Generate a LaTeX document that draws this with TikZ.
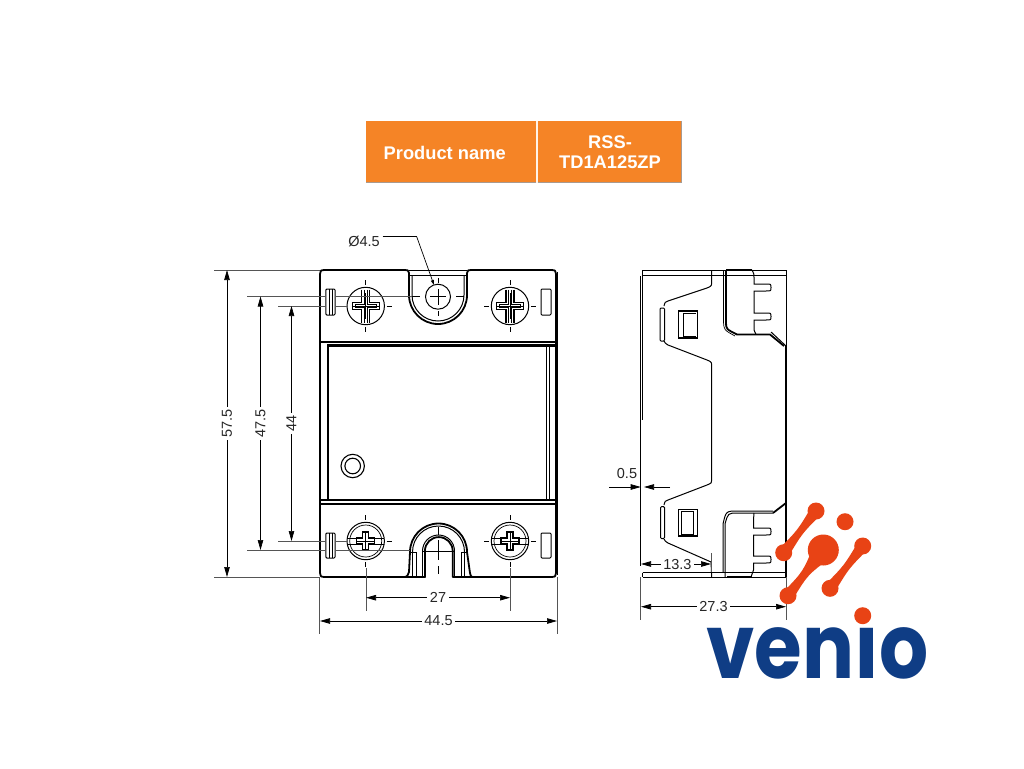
\documentclass[tikz,border=0pt]{standalone}
\usepackage{fontspec}
\setmainfont{Liberation Sans}
\newfontfamily\logofont{Poppins}
\usetikzlibrary{arrows.meta,calc}
\definecolor{tblorange}{HTML}{F58426}
\definecolor{tblgray}{HTML}{A89A90}
\definecolor{logored}{HTML}{E84315}
\definecolor{logoblue}{HTML}{0F3D85}
\definecolor{extgray}{HTML}{555555}
\tikzset{
  x=1pt,y=-1pt,
  thin line/.style={line width=0.7pt,black},
  mid line/.style={line width=1.0pt,black},
  thick line/.style={line width=1.8pt,black,line join=round},
  ext line/.style={line width=0.8pt,extgray},
  center line/.style={line width=0.7pt,black},
  dim line/.style={line width=0.7pt,black,{Triangle[length=10pt,width=5.5pt]}-{Triangle[length=10pt,width=5.5pt]}},
  dim tip/.style={line width=0.7pt,black,-{Triangle[length=10pt,width=5.5pt]}},
  dim label/.style={fill=white,inner xsep=2.5pt,inner ysep=1pt,font=\fontsize{14.5pt}{15pt}\selectfont,text=black!85},
  table text/.style={font=\fontsize{18.3pt}{20pt}\selectfont\bfseries,text=white,align=center,inner sep=0pt},
  logo dot/.style={circle,fill=logored,inner sep=0pt,minimum size=#1},
  pics/topscrew/.style={code={
    \draw[mid line] (0,0) circle (18.7);
    \draw[center line] (-26,0)--(-21,0) (-13,0)--(13,0) (21,0)--(26,0) (0,-26)--(0,-21) (0,-13)--(0,13) (0,21)--(0,26);
    \draw[line width=1.2pt] (-4,-16.5)--(-4,-3.7)--(-13.5,-3.7)--(-13.5,3.7)--(-4,3.7)--(-4,16.5) (4,-16.5)--(4,-3.7)--(13.5,-3.7)--(13.5,3.7)--(4,3.7)--(4,16.5);
    \draw[thin line] (-1.5,-16.5)--(-1.5,-1.5)--(-10.5,-1.5)--(-10.5,1.5)--(-1.5,1.5)--(-1.5,16.5) (1.5,-16.5)--(1.5,-1.5)--(10.5,-1.5)--(10.5,1.5)--(1.5,1.5)--(1.5,16.5);
  }},
  pics/botscrew/.style={code={
    \draw[mid line] (0,0) circle (18.7);
    \draw[thin line] (0,0) circle (16);
    \draw[center line] (-26,0)--(-21,0) (21,0)--(26,0) (0,-26)--(0,-21) (0,21)--(0,26);
    \draw[thin line] (-18.5,-3)--(-9,-3) (9,-3)--(18.5,-3) (-18.5,3)--(-9,3) (9,3)--(18.5,3);
    \draw[line width=1.2pt] (-9,-3)--(-3,-3)--(-3,-9)--(3,-9)--(3,-3)--(9,-3)--(9,3)--(3,3)--(3,9)--(-3,9)--(-3,3)--(-9,3)--cycle;
    \draw[center line] (-9,0)--(9,0) (0,-9)--(0,9);
  }}
}
\newcommand{\lnk}[4]{\fill[logored] ($(#1)!#3!90:(#2)$) .. controls ($(#1)!.5!(#2)!2.8pt!90:(#2)$) .. ($(#2)!#4!-90:(#1)$) -- ($(#2)!#4!90:(#1)$) .. controls ($(#1)!.5!(#2)!2.8pt!-90:(#2)$) .. ($(#1)!#3!-90:(#2)$) -- cycle;}
\begin{document}
\begin{tikzpicture}
\useasboundingbox (0,0) rectangle (1024,768);
\fill[white] (0,0) rectangle (1024,768);
% table
\fill[tblorange] (366,121) rectangle (681,183);
\draw[tblgray,line width=1pt] (366,182.5)--(681,182.5)--(681,121);
\draw[white!90!tblorange,line width=1.3pt] (537,121)--(537,183);
\node[table text] (prod) at (444.7,152.7) {Product name};
\node[table text] (model) at (610,152) {RSS-\\TD1A125ZP};
% ---------- front view
\draw[thick line] (324,270)--(405,270)..controls (408,270) ..(409,273)--(409,295)
  arc[start angle=180,end angle=0,radius=29]--(467,273)..controls (468,270)..(471,270)--(552,270)
  ..controls (555,270)..(556,274)--(556,573)..controls (555,577)..(552,577)--(475,577)..controls (471,577)..(470,573)
  --(467,552) ;
\draw[thick line] (324,270)..controls (321,270)..(320,274)--(320,573)..controls (321,577)..(324,577)--(402,577)
  ..controls (407,577)..(409,572)--(410,552);
\draw[thick line] (410,552) arc[start angle=180,end angle=360,radius=28.5];
\draw[thick line] (475,577)--(452.7,577)--(452.7,551) arc[start angle=0,end angle=-180,radius=13.9]--(425,577)--(402,577);
\draw[thin line] (557.8,272)--(557.8,575);
\draw[mid line] (412.5,552) arc[start angle=180,end angle=360,radius=26];
\draw[mid line] (422.5,551) arc[start angle=180,end angle=360,radius=16];
\draw[thin line] (412.5,552)--(412.5,577) (416,552)--(416,577) (422.5,551)--(422.5,577)
  (464.5,552)--(464.5,577) (461,552)--(461,577) (454.5,551)--(454.5,577)
  (410,552)--(416,552) (422.5,551)--(428,551) (449,551)--(455,551) (461,552)--(467,552);
\draw[mid line] (412,275)--(412,295) arc[start angle=180,end angle=0,radius=26]--(464,275);
\draw[thin line] (409,270.7)--(467,270.7) (410,275)--(467,275);
% window
\draw[line width=1.5pt] (320,341.8)--(557,341.8);
\draw[line width=3pt] (327,345.7)--(557,345.7);
\draw[line width=1.5pt] (320,500.2)--(557,500.2);
\draw[line width=1.5pt] (320,504)--(557,504);
\draw[line width=1.8pt] (327.8,345.7)--(327.8,500.2);
\draw[line width=1.2pt] (549.3,345.7)--(549.3,500.2);
\draw[thin line] (546.7,345.7)--(546.7,500.2);
\draw[line width=1.1pt] (352.7,466) circle (11.7);
\draw[line width=1.1pt] (352.7,466) circle (7.8);
% slots
\draw[mid line,rounded corners=1pt] (325.8,289) rectangle (335,315);
\draw[thin line] (329,289)--(329,315) (332,289)--(332,315);
\draw[mid line,rounded corners=1pt] (541,289) rectangle (551,315);
\draw[mid line,rounded corners=1pt] (325.8,533) rectangle (335,558);
\draw[thin line] (329,533)--(329,558) (332,533)--(332,558);
\draw[mid line,rounded corners=1pt] (541,533) rectangle (551,558);
% hole
\draw[mid line] (438,296.7) circle (12.5);
\draw[center line] (412,296.7)--(420,296.7) (430,296.7)--(446,296.7) (456,296.7)--(464,296.7)
  (438,278)--(438,283) (438,289)--(438,305) (438,311)--(438,316);
% bottom slot centre
\draw[center line] (426,551.5)--(450,551.5) (438,527)--(438,535) (438,540)--(438,560) (438,566)--(438,574);
% screws
\pic at (365.7,306) {topscrew};
\pic at (510,306) {topscrew};
\pic at (365.7,541) {botscrew};
\pic at (510,541) {botscrew};
% ---------- side view
\draw[mid line] (642.7,270)--(786,270)--(786,345);
\draw[mid line] (642.7,275)--(786,275);
\draw[mid line] (642.7,270)--(642.7,420);
\draw[line width=1.1pt] (640.7,276)--(640.7,566);
\draw[mid line] (642.7,572.5)--(786,572.5) (642.7,577)--(786,577) (642.7,572.5)--(642.7,577);
\draw[mid line] (785,345)--(785,503) (786.8,345)--(786.8,503);
% clip outline
\draw[mid line] (711.7,270)--(711.7,281) ..controls (711.7,286)..(707,288)--(668,301) ..controls (665,302)..(664,306);
\draw[mid line] (664,341)..controls (665,343)..(668,345)--(707,360)..controls (711.7,362)..(711.7,367)--(711.7,480)
  ..controls (711.7,483)..(707,485)--(668,500)..controls (665,501)..(664,505);
\draw[mid line] (664,539)..controls (665,541)..(668,543)--(711,562)--(711.7,577);
\draw[mid line,rounded corners=1pt] (660,308) rectangle (664.5,341);
\draw[mid line,rounded corners=1pt] (660.5,506.7) rectangle (664.5,538.5);
% square holes
\draw[line width=1.4pt] (678.5,311) rectangle (697.5,338);
\draw[thin line] (683.3,313)--(683.3,336) (683.3,313)--(695.5,313) (683.3,336)--(695.5,336);
\draw[line width=1.4pt] (678.5,509.5) rectangle (697.5,536);
\draw[thin line] (681,511.5) rectangle (693,534);
% top terminal
\draw[thick line] (726,270)--(726,322)..controls (726,329)..(737,334.5)--(770,334.5)--(784,346);
\draw[thick line] (726,270)--(752,270);
\draw[thin line] (723.5,270)--(723.5,322)..controls (724,330)..(735,336);
\draw[mid line] (771,332)--(786,346);
\draw[mid line] (752,270)..controls (754,274)..(754,278)--(754,284)--(766,284)..controls (771,284)..(771,287.5)..controls (771,291)..(766,291)--(754,291)--(754,313)--(766,313)..controls (771,313)..(771,316.5)..controls (771,320)..(766,320)--(754,320)--(754,330)--(756,334.5);
% bottom terminal
\draw[thick line] (786,503)--(773,513);
\draw[mid line] (773,513)--(738,513)..controls (728,513)..(725,524)--(725,577);
\draw[mid line] (773,511)--(738,511)..controls (726,511)..(723,524)--(723,572);
\draw[thick line] (726.5,577)--(752,577);
\draw[thick line] (786,503)--(786,577);
\draw[mid line] (754,513)..controls (753,516)..(753.5,520)--(753.5,528)--(766,528)..controls (771,528)..(771,531.5)..controls (771,535)..(766,535)--(753.5,535)--(753.5,556)--(766,556)..controls (771,556)..(771,559.5)..controls (771,563)..(766,563)--(753.5,563)--(753.5,570)--(751,577);
% ---------- dimensions
\coordinate (a1) at (227,270); \coordinate (a2) at (227,577);
\coordinate (b1) at (260.5,296.5); \coordinate (b2) at (260.5,550);
\coordinate (c1) at (291.5,306); \coordinate (c2) at (291.5,541);
\draw[ext line] (214,270)--(320,270) (214,577)--(320,577) (247,296.5)--(325,296.5) (247,550)--(325,550) (278,306)--(326,306) (278,541)--(326,541);
\draw[ext line] (412,296.5)--(336,296.5) (336,306)--(347,306) (336,541)--(347,541) (336,550)--(410,550);
\draw[dim line] (a1)--(a2) node[midway,dim label,rotate=90] (l575) {57.5};
\draw[dim line] (b1)--(b2) node[pos=.5,dim label,rotate=90] (l475) {47.5};
\draw[dim line] (c1)--(c2) node[midway,dim label,rotate=90] (l44) {44};
\coordinate (d1) at (366,597.7); \coordinate (d2) at (510,597.7);
\coordinate (e1) at (320,621); \coordinate (e2) at (557,621);
\draw[ext line] (366,568)--(366,611) (510,568)--(510,611) (319.5,577)--(319.5,634) (557,577)--(557,634);
\draw[dim line] (d1)--(d2) node[midway,dim label] (l27) {27};
\draw[dim line] (e1)--(e2) node[midway,dim label] (l445) {44.5};
% diameter
\node[dim label,fill=none,inner xsep=0pt] (ldia) at (364,241) {Ø4.5};
\coordinate (dk) at (416.7,236.7); \coordinate (dt) at (434,285);
\draw[line width=0.7pt] (382.7,236.7)--(dk);
\draw[line width=0.7pt,-{Triangle[length=5pt,width=3pt]}] (dk)--(dt);
% side dims
\coordinate (f1) at (609,487); \coordinate (f2) at (640.7,487);
\coordinate (g1) at (670,487); \coordinate (g2) at (644,487);
\draw[dim tip] (f1)--(f2);
\draw[dim tip] (g1)--(g2);
\node[dim label,fill=none,inner xsep=0pt] (l05) at (627,474) {0.5};
\coordinate (h1) at (641,564); \coordinate (h2) at (711,564);
\draw[ext line] (711,553)--(711,572);
\draw[dim line] (h1)--(h2) node[pos=.52,dim label] (l133) {13.3};
\coordinate (i1) at (641,606.7); \coordinate (i2) at (786,606.7);
\draw[ext line] (640.5,577)--(640.5,620) (786,577)--(786,620);
\draw[dim line] (i1)--(i2) node[pos=.5,dim label] (l273) {27.3};
% ---------- logo
\node[logo dot=31pt] (bigd) at (823.3,550) {};
\node[logo dot=17pt] (tp) at (816,511) {};
\node[logo dot=17pt] (lf) at (783.7,552.7) {};
\node[logo dot=17pt] (iso) at (845,521.7) {};
\node[logo dot=17pt] (rt) at (862.7,546) {};
\node[logo dot=17pt] (mb) at (830,588.3) {};
\node[logo dot=17pt] (bl) at (788,595.7) {};
\node[logo dot=17pt] (idot) at (862.7,615.7) {};
\lnk{tp}{lf}{6pt}{6pt}
\lnk{rt}{mb}{6pt}{6pt}
\lnk{bigd}{bl}{11pt}{6pt}
\node[inner sep=0pt,text=logoblue,anchor=base] (venio) at (817.5,678) {\scalebox{0.858}[1]{\logofont\bfseries\fontsize{90pt}{90pt}\selectfont venıo}};
\end{tikzpicture}
\end{document}
